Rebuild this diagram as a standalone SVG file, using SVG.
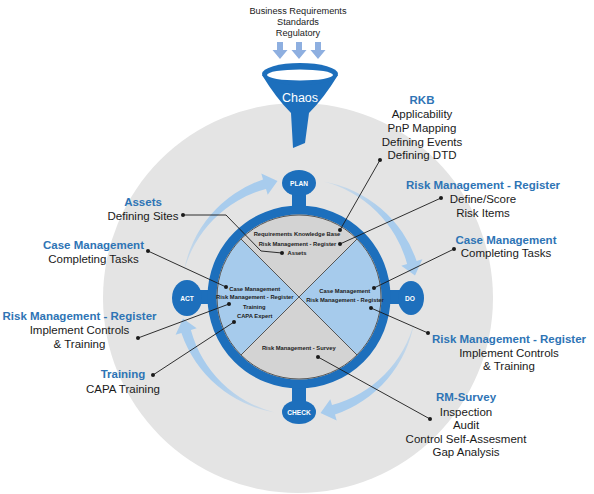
<svg xmlns="http://www.w3.org/2000/svg" width="594" height="494" viewBox="0 0 594 494">
<style>
.lbl{font-family:"Liberation Sans",Arial,sans-serif;font-size:11.5px;fill:#1a1a1a;text-anchor:middle}
.ttl{font-family:"Liberation Sans",Arial,sans-serif;font-size:11.5px;font-weight:bold;fill:#2e74b5;text-anchor:middle}
.top{font-family:"Liberation Sans",Arial,sans-serif;font-size:9.2px;fill:#1a1a1a;text-anchor:middle}
.in{font-family:"Liberation Sans",Arial,sans-serif;font-size:5.8px;font-weight:bold;fill:#222222;text-anchor:middle}
.nt{font-family:"Liberation Sans",Arial,sans-serif;font-size:6.6px;font-weight:bold;fill:#ffffff;text-anchor:middle}
.blob{fill:#1d6fbc}
.arc{fill:url(#arcfade)}
.ld{fill:none;stroke:#1a1a1a;stroke-width:0.9}
.dot{fill:#1a1a1a}
.qg{fill:#d3d3d3}
.qb{fill:#a6cbec}
</style>
<defs>
<linearGradient id="arcfade" gradientUnits="userSpaceOnUse" x1="-115" y1="-24" x2="-40" y2="-112">
<stop offset="0" stop-color="#a8cced" stop-opacity="0.35"/>
<stop offset="0.6" stop-color="#a8cced" stop-opacity="1"/>
</linearGradient>
<path id="carrow" d="M-115.4,-24.5 A120,120 0 0 1 -36,-117.6 L-37.7,-123.4 L-21.5,-116 L-31.3,-102.3 L-33,-108.1 A116,116 0 0 0 -115.4,-24.5 Z"/>
<path id="darrow" d="M-3,42 L3,42 L3,50 L7.5,50 L0,59 L-7.5,50 L-3,50 Z" fill="#8eafe0"/>
</defs>

<circle cx="298" cy="298" r="195" fill="#e4e4e4"/>

<g id="inputs">
<text class="top" x="298" y="14">Business Requirements</text>
<text class="top" x="298" y="25">Standards</text>
<text class="top" x="298" y="36">Regulatory</text>
<use href="#darrow" x="280"/>
<use href="#darrow" x="299"/>
<use href="#darrow" x="318"/>
</g>

<g id="funnel">
<path class="blob" d="M262,75 Q276,98 291,113 L293,148 L305,143 L309,113 Q324,98 338,75 Z"/>
<ellipse class="blob" cx="300" cy="74" rx="38" ry="11"/>
<ellipse cx="300" cy="75" rx="33" ry="5.5" fill="#ffffff"/>
<text x="300" y="102" font-family="Liberation Sans, Arial, sans-serif" font-size="12.5" fill="#ffffff" text-anchor="middle">Chaos</text>
</g>

<g id="cycle-arrows">
<use href="#carrow" class="arc" transform="translate(299,297)"/>
<use href="#carrow" class="arc" transform="translate(299,297) rotate(90)"/>
<use href="#carrow" class="arc" transform="translate(299,297) rotate(180)"/>
<use href="#carrow" class="arc" transform="translate(299,297) rotate(270)"/>
</g>

<g id="plan">
<rect class="blob" x="292" y="188" width="14" height="24"/>
<ellipse class="blob" cx="299" cy="183" rx="17" ry="13"/>
<text class="nt" x="299" y="186">PLAN</text>
</g>
<g id="do">
<rect class="blob" x="384" y="290" width="24" height="14"/>
<ellipse class="blob" cx="411" cy="298" rx="13" ry="17"/>
<text class="nt" x="410" y="300.5">DO</text>
</g>
<g id="check">
<rect class="blob" x="292" y="382" width="14" height="26"/>
<ellipse class="blob" cx="299" cy="412" rx="17" ry="12"/>
<text class="nt" x="299" y="414.5">CHECK</text>
</g>
<g id="act">
<rect class="blob" x="190" y="290" width="24" height="14"/>
<ellipse class="blob" cx="187" cy="298" rx="15" ry="18"/>
<text class="nt" x="187" y="300.5">ACT</text>
</g>

<g id="hub">
<circle cx="299" cy="297" r="87" fill="none" stroke="#1d6fbc" stroke-width="9"/>
<path class="qg" d="M299,297 L241,239 A82,82 0 0 1 357,239 Z"/>
<path class="qb" d="M299,297 L357,239 A82,82 0 0 1 357,355 Z"/>
<path class="qg" d="M299,297 L357,355 A82,82 0 0 1 241,355 Z"/>
<path class="qb" d="M299,297 L241,355 A82,82 0 0 1 241,239 Z"/>
<circle cx="299" cy="297" r="82" fill="none" stroke="#555" stroke-width="1"/>
<line x1="241" y1="239" x2="357" y2="355" stroke="#555" stroke-width="1"/>
<line x1="357" y1="239" x2="241" y2="355" stroke="#555" stroke-width="1"/>
<text class="in" x="297" y="236.2">Requirements Knowledge Base</text>
<text class="in" x="297.5" y="245.5">Risk Management - Register</text>
<text class="in" x="297" y="254.5">Assets</text>
<text class="in" x="254.7" y="290.5">Case Management</text>
<text class="in" x="254.8" y="299.3">Risk Management - Register</text>
<text class="in" x="254.3" y="309">Training</text>
<text class="in" x="254.7" y="317.6">CAPA Expert</text>
<text class="in" x="344.8" y="292.5">Case Management</text>
<text class="in" x="345" y="301.5">Risk Management - Register</text>
<text class="in" x="298.8" y="350">Risk Management - Survey</text>
</g>

<g id="connectors">
<line class="ld" x1="380" y1="160" x2="340" y2="230"/>
<line class="ld" x1="441" y1="198" x2="340" y2="244"/>
<line class="ld" x1="454" y1="249" x2="374" y2="288"/>
<line class="ld" x1="428" y1="333" x2="371" y2="308"/>
<line class="ld" x1="430" y1="419" x2="318" y2="357"/>
<polyline class="ld" points="183,215 226,215 261,251 282,253"/>
<line class="ld" x1="148" y1="251" x2="226" y2="287"/>
<line class="ld" x1="138" y1="338" x2="229" y2="304"/>
<line class="ld" x1="153" y1="375" x2="234" y2="322"/>
<circle class="dot" cx="380" cy="160" r="2"/><circle class="dot" cx="340" cy="230" r="2"/>
<circle class="dot" cx="441" cy="198" r="2"/><circle class="dot" cx="340" cy="244" r="2"/>
<circle class="dot" cx="454" cy="249" r="2"/><circle class="dot" cx="374" cy="288" r="2"/>
<circle class="dot" cx="428" cy="333" r="2"/><circle class="dot" cx="371" cy="308" r="2"/>
<circle class="dot" cx="430" cy="419" r="2"/><circle class="dot" cx="318" cy="357" r="2"/>
<circle class="dot" cx="183" cy="215" r="2"/><circle class="dot" cx="282" cy="253" r="2"/>
<circle class="dot" cx="148" cy="251" r="2"/><circle class="dot" cx="226" cy="287" r="2"/>
<circle class="dot" cx="138" cy="338" r="2"/><circle class="dot" cx="229" cy="304" r="2"/>
<circle class="dot" cx="153" cy="375" r="2"/><circle class="dot" cx="234" cy="322" r="2"/>
</g>

<g id="label-rkb">
<text class="ttl" x="422" y="104">RKB</text>
<text class="lbl" x="422" y="117.5">Applicability</text>
<text class="lbl" x="422" y="131.5">PnP Mapping</text>
<text class="lbl" x="422" y="145.5">Defining Events</text>
<text class="lbl" x="422" y="159">Defining DTD</text>
</g>
<g id="label-rmr-plan">
<text class="ttl" x="483" y="189">Risk Management - Register</text>
<text class="lbl" x="483" y="203">Define/Score</text>
<text class="lbl" x="483" y="216.5">Risk Items</text>
</g>
<g id="label-cm-do">
<text class="ttl" x="506" y="243.5">Case Management</text>
<text class="lbl" x="506" y="257">Completing Tasks</text>
</g>
<g id="label-rmr-do">
<text class="ttl" x="509" y="342.5">Risk Management - Register</text>
<text class="lbl" x="509" y="356.5">Implement Controls</text>
<text class="lbl" x="509" y="370">&amp; Training</text>
</g>
<g id="label-rms">
<text class="ttl" x="466" y="401">RM-Survey</text>
<text class="lbl" x="466" y="415.5">Inspection</text>
<text class="lbl" x="466" y="429">Audit</text>
<text class="lbl" x="466" y="442.5">Control Self-Assesment</text>
<text class="lbl" x="466" y="456">Gap Analysis</text>
</g>
<g id="label-assets">
<text class="ttl" x="143" y="206">Assets</text>
<text class="lbl" x="143" y="219.5">Defining Sites</text>
</g>
<g id="label-cm-act">
<text class="ttl" x="93.5" y="248.5">Case Management</text>
<text class="lbl" x="93.5" y="262.5">Completing Tasks</text>
</g>
<g id="label-rmr-act">
<text class="ttl" x="79.5" y="320">Risk Management - Register</text>
<text class="lbl" x="79.5" y="334">Implement Controls</text>
<text class="lbl" x="79.5" y="348">&amp; Training</text>
</g>
<g id="label-training">
<text class="ttl" x="123" y="378">Training</text>
<text class="lbl" x="123" y="392.5">CAPA Training</text>
</g>
</svg>
